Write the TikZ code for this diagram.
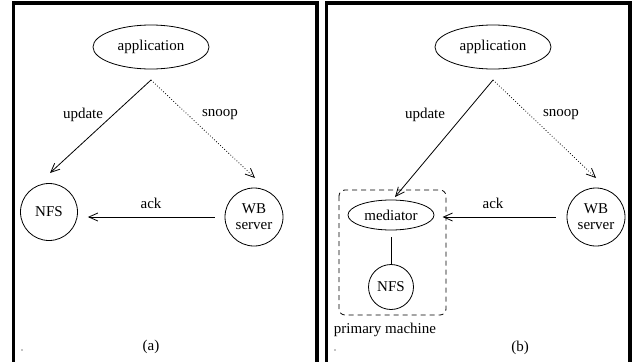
\documentclass[tikz,border=0pt]{standalone}
\usepackage{fontspec}
\setmainfont{Liberation Serif}
\newfontfamily\figfont{Liberation Serif}
\usetikzlibrary{positioning,arrows.meta,calc,shapes.geometric}
\tikzset{
  proc/.style={draw, ellipse, line width=0.8pt, inner sep=0pt, font=\figfont\fontsize{15}{16}\selectfont},
  host/.style={draw, circle, line width=0.8pt, inner sep=0pt, align=center, font=\figfont\fontsize{15}{16}\selectfont},
  lbl/.style={inner sep=0pt, font=\figfont\fontsize{15}{16}\selectfont},
  fl/.style={-{Straight Barb[length=9pt,width=8pt]}, line width=0.8pt},
  sn/.style={fl, dotted},
  frame/.style={line width=3.5pt},
}
\begin{document}
\begin{tikzpicture}[x=1pt, y=-1pt]
\useasboundingbox (0,0) rectangle (633,362);
% panels
\draw[frame] (13.5,365) -- (13.5,3) -- (317,3) -- (317,365);
\draw[frame] (326.5,365) -- (326.5,3) -- (630,3) -- (630,365);

% (a): application writes straight to NFS
\node[proc, minimum width=116pt, minimum height=44pt] (appA) at (151,47) {application};
\node[host, minimum size=57pt] (nfsA) at (49,212) {NFS};
\node[host, minimum size=58pt] (wbA) at (254,217) {WB\\server};
\coordinate (splitA) at (151,80);
\coordinate (updA) at (50,173);
\coordinate (snA) at (255,178);
\draw[fl] (splitA) -- (updA);
\draw[sn] (splitA) -- (snA);
\draw[fl, shorten <=10pt, shorten >=10pt] (wbA.west) -- (wbA.west -| nfsA.east);
\node[lbl] (updlA) at (83,115) {update};
\node[lbl] (snlA) at (220,115) {snoop};
\node[lbl] (acklA) at (151,203) {ack};
\node[lbl] (capA) at (151,347) {(a)};
\fill (22,350) circle (0.6pt);

% (b): mediator in front of NFS
\node[proc, minimum width=116pt, minimum height=44pt] (appB) at (493,47) {application};
\node[proc, minimum width=86pt, minimum height=30pt] (med) at (391,215) {mediator};
\node[host, minimum size=45pt] (nfsB) at (391,287) {NFS};
\node[host, minimum size=58pt] (wbB) at (596,217) {WB\\server};
\coordinate (splitB) at (493,80);
\coordinate (updB) at (395,197);
\coordinate (snB) at (596,178);
\draw[fl] (splitB) -- (updB);
\draw[sn] (splitB) -- (snB);
\draw[fl, shorten <=11pt] (wbB.west) -- ++(-124,0);
\draw[line width=0.8pt, shorten <=7pt] (med.south) -- (nfsB.north);
\draw[line width=0.8pt, dash pattern=on 5pt off 4pt, rounded corners=6pt] (339,190) rectangle (446,315);
\node[lbl] (updlB) at (425,115) {update};
\node[lbl] (snlB) at (561,115) {snoop};
\node[lbl] (acklB) at (493,203) {ack};
\node[lbl] (pm) at (385,330) {primary machine};
\node[lbl] (capB) at (520,348) {(b)};
\fill (335,350) circle (0.6pt);
\end{tikzpicture}
\end{document}
